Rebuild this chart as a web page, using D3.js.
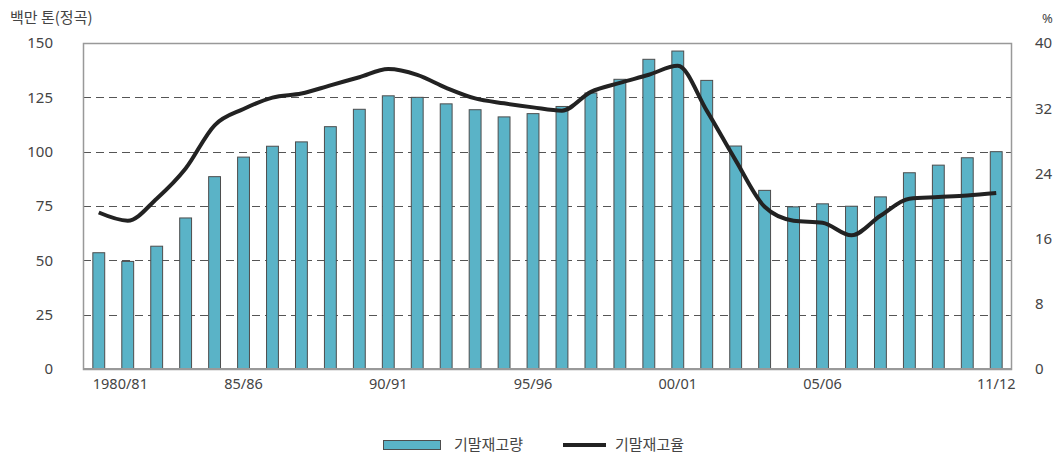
<!DOCTYPE html>
<html>
<head>
<meta charset="utf-8">
<script src="https://cdn.jsdelivr.net/npm/d3@7"></script>
<style>
  body { margin: 0; background: #fff; }
  text { font-family: "Noto Sans", "Noto Sans CJK KR", sans-serif; fill: #444; }
  .kr { font-family: "Noto Sans CJK KR", sans-serif; }
</style>
</head>
<body>
<div id="chart"></div>
<script>
// seasons 1980/81 .. 2011/12
var seasons = ["1980/81", "81/82", "82/83", "83/84", "84/85", "85/86", "86/87", "87/88",
  "88/89", "89/90", "90/91", "91/92", "92/93", "93/94", "94/95", "95/96", "96/97", "97/98",
  "98/99", "99/00", "00/01", "01/02", "02/03", "03/04", "04/05", "05/06", "06/07", "07/08",
  "08/09", "09/10", "10/11", "11/12"];

// 기말재고량 (백만 톤)
var stocks = [53.5, 49.5, 56.5, 69.5, 88.5, 97.5, 102.5, 104.5, 111.5, 119.5, 125.7, 125,
  122, 119.3, 116, 117.5, 120.8, 127, 133.3, 142.5, 146.3, 132.8, 102.6, 82.2, 74.6, 76,
  74.9, 79.2, 90.3, 93.8, 97.2, 100];

// 기말재고율 (%)
var ratio = [19.2, 18.2, 20.9, 24.6, 29.9, 31.9, 33.3, 33.8, 34.8, 35.8, 36.8, 36.1, 34.5,
  33.2, 32.6, 32.1, 31.7, 34.0, 35.1, 36.1, 37.2, 31.7, 25.6, 19.9, 18.2, 17.95, 16.4, 18.8,
  20.9, 21.1, 21.3, 21.6];

var xTickLabels = ["1980/81", "85/86", "90/91", "95/96", "00/01", "05/06", "11/12"];
var leftTicks = [0, 25, 50, 75, 100, 125, 150];
var rightTicks = [0, 8, 16, 24, 32, 40];

var W = 1057, H = 453;
var margin = { top: 43, right: 45, bottom: 84, left: 83 };
var width = W - margin.left - margin.right,
    height = H - margin.top - margin.bottom;

var svg = d3.select("#chart").append("svg")
  .attr("width", W)
  .attr("height", H);

var g = svg.append("g")
  .attr("transform", "translate(" + margin.left + "," + margin.top + ")");

var x = d3.scaleBand()
  .domain(seasons)
  .range([0, width])
  .paddingInner(0.59)
  .paddingOuter(0.34);

var yL = d3.scaleLinear().domain([0, 150]).range([height, 0]);
var yR = d3.scaleLinear().domain([0, 40]).range([height, 0]);

// dashed grid
g.selectAll(".grid")
  .data(leftTicks.filter(function(d) { return d > 0 && d < 150; }))
  .enter()
  .append("line")
  .attr("class", "grid")
  .attr("x1", 0)
  .attr("x2", width)
  .attr("y1", function(d) { return Math.round(yL(d)) + 0.5; })
  .attr("y2", function(d) { return Math.round(yL(d)) + 0.5; })
  .attr("stroke", "#555")
  .attr("stroke-width", 1)
  .attr("stroke-dasharray", "8,5");

// frame
g.append("rect")
  .attr("x", 0.5)
  .attr("y", 0.5)
  .attr("width", width - 1)
  .attr("height", height)
  .attr("fill", "none")
  .attr("stroke", "#999")
  .attr("stroke-width", 1.5);

// bars
g.selectAll(".bar")
  .data(stocks)
  .enter()
  .append("rect")
  .attr("class", "bar")
  .attr("x", function(d, i) { return x(seasons[i]); })
  .attr("width", x.bandwidth())
  .attr("y", function(d) { return yL(d); })
  .attr("height", function(d) { return height - yL(d); })
  .attr("fill", "#5ab3c7")
  .attr("stroke", "#4d4d4d")
  .attr("stroke-width", 1);

// bottom axis line
g.append("line")
  .attr("x1", 0)
  .attr("x2", width)
  .attr("y1", height)
  .attr("y2", height)
  .attr("stroke", "#999")
  .attr("stroke-width", 2);

// ratio line
var line = d3.line()
  .x(function(d, i) { return x(seasons[i]) + x.bandwidth() / 2; })
  .y(function(d) { return yR(d); })
  .curve(d3.curveMonotoneX);

g.append("path")
  .datum(ratio)
  .attr("d", line)
  .attr("fill", "none")
  .attr("stroke", "#222")
  .attr("stroke-width", 4)
  .attr("stroke-linejoin", "round");

// axes
var labelMap = {};
xTickLabels.forEach(function(s) { labelMap[s] = true; });

var xAxis = g.append("g")
  .attr("transform", "translate(0," + height + ")")
  .call(d3.axisBottom(x)
    .tickValues(seasons.filter(function(s) { return labelMap[s]; }))
    .tickSize(0)
    .tickPadding(10));
xAxis.select(".domain").remove();
xAxis.selectAll("text")
  .style("font-size", "14.5px")
  .attr("fill", "#444");
xAxis.select(".tick text")
  .attr("text-anchor", "start")
  .attr("x", -6);

var yAxisL = g.append("g")
  .call(d3.axisLeft(yL).tickValues(leftTicks).tickSize(0).tickPadding(30));
yAxisL.select(".domain").remove();
yAxisL.selectAll("text")
  .style("font-size", "15px")
  .attr("fill", "#444");

var yAxisR = g.append("g")
  .attr("transform", "translate(" + width + ",0)")
  .call(d3.axisRight(yR).tickValues(rightTicks).tickSize(0).tickPadding(23));
yAxisR.select(".domain").remove();
yAxisR.selectAll("text")
  .style("font-size", "15px")
  .attr("fill", "#444");

// unit labels
svg.append("text")
  .attr("class", "kr")
  .attr("x", 10)
  .attr("y", 23)
  .style("font-size", "15px")
  .attr("fill", "#555")
  .text("백만 톤(정곡)");

svg.append("text")
  .attr("x", 1042)
  .attr("y", 23)
  .style("font-size", "13px")
  .attr("fill", "#555")
  .text("%");

// legend
var legend = svg.append("g").attr("transform", "translate(383,445)");
legend.append("rect")
  .attr("x", 0.5)
  .attr("y", -4.5)
  .attr("width", 57)
  .attr("height", 9)
  .attr("fill", "#5ab3c7")
  .attr("stroke", "#4d4d4d");
legend.append("text")
  .attr("class", "kr")
  .attr("x", 71)
  .attr("y", 4.5)
  .style("font-size", "15px")
  .attr("fill", "#444")
  .text("기말재고량");
legend.append("line")
  .attr("x1", 180)
  .attr("x2", 223)
  .attr("y1", 0)
  .attr("y2", 0)
  .attr("stroke", "#222")
  .attr("stroke-width", 4);
legend.append("text")
  .attr("class", "kr")
  .attr("x", 232)
  .attr("y", 4.5)
  .style("font-size", "15px")
  .attr("fill", "#444")
  .text("기말재고율");
</script>
</body>
</html>
